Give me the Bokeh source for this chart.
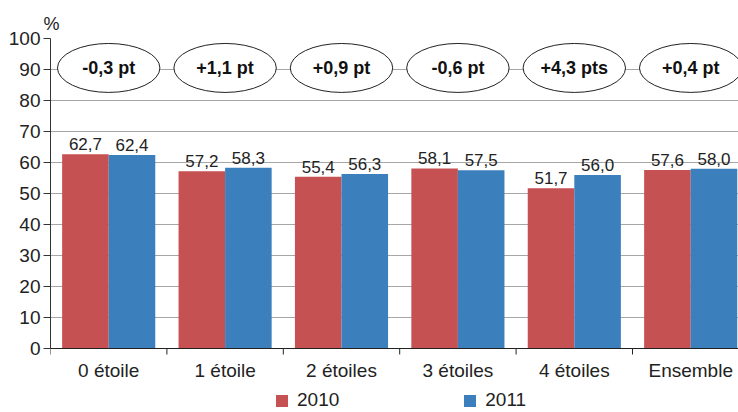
import math
from bokeh.plotting import figure
from bokeh.models import Range1d, FixedTicker, Legend, LegendItem, Span, ColumnDataSource
from bokeh.core.properties import value
from bokeh.embed import file_html
from bokeh.resources import INLINE

categories = ["0 étoile", "1 étoile", "2 étoiles", "3 étoiles", "4 étoiles", "Ensemble"]
v2010 = [62.7, 57.2, 55.4, 58.1, 51.7, 57.6]
v2011 = [62.4, 58.3, 56.3, 57.5, 56.0, 58.0]
diffs = ["-0,3 pt", "+1,1 pt", "+0,9 pt", "-0,6 pt", "+4,3 pts", "+0,4 pt"]
y_ticks = [0, 10, 20, 30, 40, 50, 60, 70, 80, 90, 100]
series_names = ["2010", "2011"]

RED = "#C65152"
BLUE = "#3B7FBD"
FONT = "Liberation Sans"
TXT = "#222222"

centers = [i + 0.5 for i in range(len(categories))]
bounds = list(range(len(categories) + 1))

def fmt(v):
    return f"{v:.1f}".replace(".", ",")

src = ColumnDataSource(dict(
    x=centers,
    x10=[c - 0.2 for c in centers],
    x11=[c + 0.2 for c in centers],
    v10=v2010, v11=v2011,
    l10=[fmt(v) for v in v2010], l11=[fmt(v) for v in v2011],
    d=diffs,
    cat=categories,
    zero=[0] * len(categories),
    ey=[90.5] * len(categories),
))
bsrc = ColumnDataSource(dict(x=bounds, y=[0] * len(bounds)))

W, H = 738, 412
TOP, LEFT = 38, 50
FRAME_H = H - TOP
PX_PER_UNIT = 310 / 100.0
y_start = -(FRAME_H - 310) / PX_PER_UNIT
x_end = (W - LEFT) / 116.4

p = figure(width=W, height=H, x_range=Range1d(0, x_end), y_range=Range1d(y_start, 100),
           output_backend="svg", toolbar_location=None,
           min_border_left=LEFT, min_border_right=0, min_border_top=TOP, min_border_bottom=0)
p.outline_line_color = None
p.background_fill_color = "white"
p.border_fill_color = "white"

# "%" unit label as title
p.title.text = "%"
p.title.text_font = FONT
p.title.text_font_size = "18px"
p.title.text_font_style = "normal"
p.title.text_color = TXT
p.title.align = "left"
p.title.offset = -7
p.title.standoff = 10

# grid
p.xgrid.grid_line_color = None
p.ygrid.grid_line_color = "#A6A6A6"
p.ygrid.grid_line_width = 1
p.ygrid.ticker = FixedTicker(ticks=y_ticks)

# y axis
p.yaxis.ticker = FixedTicker(ticks=y_ticks)
p.yaxis.bounds = (0, 100)
p.yaxis.axis_line_color = "#333333"
p.yaxis.major_tick_line_color = "#333333"
p.yaxis.major_tick_out = 7
p.yaxis.major_tick_in = 0
p.yaxis.minor_tick_line_color = None
p.yaxis.major_label_text_font = FONT
p.yaxis.major_label_text_font_size = "19px"
p.yaxis.major_label_text_color = TXT
p.yaxis.major_label_standoff = 3

# x axis drawn by hand inside the frame
p.xaxis.visible = False

# bars
r1 = p.vbar(x="x10", top="v10", width=0.4, source=src, fill_color=RED, line_color=None)
r2 = p.vbar(x="x11", top="v11", width=0.4, source=src, fill_color=BLUE, line_color=None)

p.add_layout(Span(location=0, dimension="width", line_color=TXT, line_width=1))
p.ray(x="x", y="y", source=bsrc, length=6, length_units="screen", angle=-math.pi / 2,
      line_color=TXT, line_width=1)
p.text(x="x", y="zero", text="cat", source=src, y_offset=11, text_align="center",
       text_baseline="top", text_font=value(FONT), text_font_size="19px", text_color=TXT)

# value labels
for xc, yc, lc in (("x10", "v10", "l10"), ("x11", "v11", "l11")):
    p.text(x=xc, y=yc, text=lc, source=src, y_offset=-4, text_align="center",
           text_baseline="bottom", text_font=value(FONT), text_font_size="17px",
           text_color=TXT)

# ellipses with differences
p.ellipse(x="x", y="ey", width=0.88, height=15.8, source=src, fill_color="white",
          line_color="#222222", line_width=1)
p.text(x="x", y="ey", text="d", source=src, text_align="center", text_baseline="middle",
       text_font=value(FONT), text_font_size="18px", text_font_style="bold",
       text_color="#111111")

legend = Legend(items=[LegendItem(label=series_names[0], renderers=[r1]),
                       LegendItem(label=series_names[1], renderers=[r2])],
                orientation="horizontal", spacing=123, glyph_width=15, glyph_height=15,
                label_text_font=FONT, label_text_font_size="19px", label_text_color=TXT,
                label_standoff=8, border_line_color=None, background_fill_alpha=0,
                padding=1, margin=0, location=(224, 1))
p.add_layout(legend)

open("out.html", "w").write(file_html(p, INLINE))
